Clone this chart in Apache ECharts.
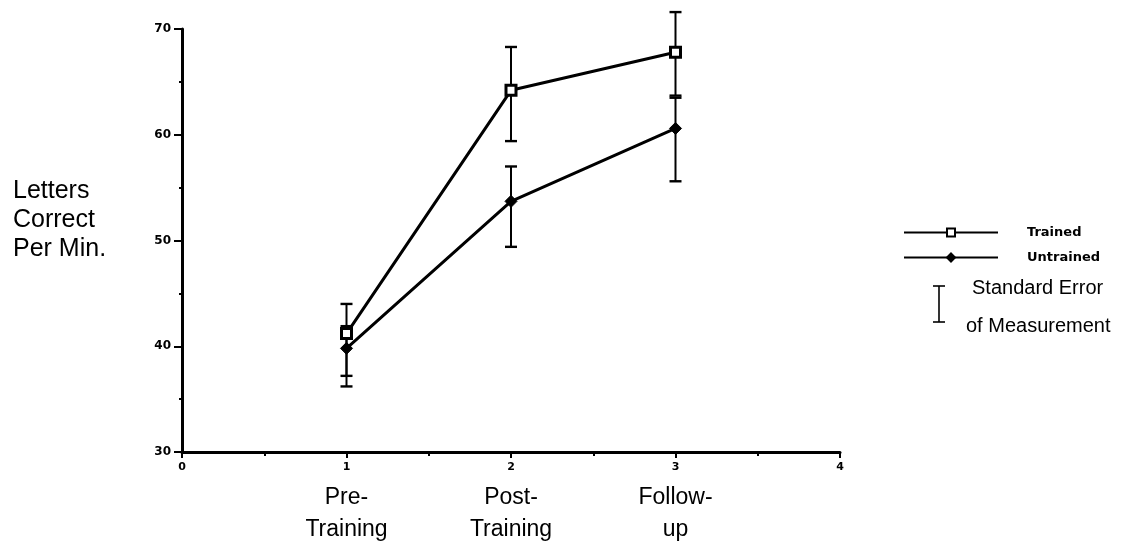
<!DOCTYPE html>
<html>
<head>
<meta charset="utf-8">
<script src="https://cdn.jsdelivr.net/npm/echarts@6/dist/echarts.min.js"></script>
<style>
  html, body { margin: 0; padding: 0; background: #fff; }
  #chart { width: 1125px; height: 541px; }
</style>
</head>
<body>
<div id="chart"></div>
<script>
// Measurement phases (x positions) and their names
const phases = [1, 2, 3];
const phaseNames = ['Pre-\nTraining', 'Post-\nTraining', 'Follow-\nup'];

// Letters correct per minute: group means and error-bar ends
const trainedMeans = [41.2, 64.2, 67.8];
const trainedLow = [37.2, 59.4, 63.7];
const trainedHigh = [44.0, 68.3, 71.6];

const untrainedMeans = [39.8, 53.7, 60.6];
const untrainedLow = [36.2, 49.4, 55.6];
const untrainedHigh = [41.9, 57.0, 63.5];

const seriesNames = ['Trained', 'Untrained'];
const yTitle = 'Letters\nCorrect\nPer Min.';
const errorNote = ['Standard Error', 'of Measurement'];

const FONT = 'Liberation Sans, Arial, Helvetica, sans-serif';
const BOLD_FONT = 'DejaVu Sans, sans-serif';

const pairs = (ys) => phases.map((x, i) => [x, ys[i]]);
const ranges = (lo, hi) => phases.map((x, i) => [x, lo[i], hi[i]]);

// Vertical error bar with end caps
function errorBar(params, api) {
  const x = api.value(0);
  const lo = api.coord([x, api.value(1)]);
  const hi = api.coord([x, api.value(2)]);
  const half = 6;
  const stroke = { stroke: '#000', lineWidth: 2 };
  const cap = { stroke: '#000', lineWidth: 2.4 };
  return {
    type: 'group',
    children: [
      { type: 'line', shape: { x1: lo[0], y1: lo[1], x2: hi[0], y2: hi[1] }, style: stroke },
      { type: 'line', shape: { x1: lo[0] - half, y1: lo[1], x2: lo[0] + half, y2: lo[1] }, style: cap },
      { type: 'line', shape: { x1: hi[0] - half, y1: hi[1], x2: hi[0] + half, y2: hi[1] }, style: cap }
    ]
  };
}

const hidden = { show: false };
const black = (w) => ({ color: '#000', width: w });

const chart = echarts.init(document.getElementById('chart'), null, { renderer: 'canvas' });

chart.setOption({
  backgroundColor: '#fff',
  animation: false,
  title: {
    text: yTitle,
    left: 8,
    top: 172,
    textStyle: { fontFamily: FONT, fontSize: 25, fontWeight: 'normal', color: '#000', lineHeight: 29 }
  },
  legend: {
    data: seriesNames,
    orient: 'vertical',
    left: 903,
    top: 226,
    padding: 0,
    itemWidth: 94,
    itemHeight: 10,
    itemGap: 12,
    textStyle: { fontFamily: BOLD_FONT, fontSize: 13, fontWeight: 'bold', color: '#000', padding: [0, 0, 0, 24] }
  },
  grid: { left: 182, right: 285, top: 29, bottom: 89, containLabel: false, outerBoundsMode: 'none' },
  xAxis: [
    {
      // main axis with numeric labels
      type: 'value', min: 0, max: 4, interval: 1,
      axisLine: { show: true, lineStyle: black(3) },
      axisTick: { show: true, inside: false, length: 6, lineStyle: black(2) },
      splitLine: hidden,
      axisLabel: { margin: 10, color: '#000', fontFamily: BOLD_FONT, fontSize: 11, fontWeight: 'bold' },
      z: 5
    },
    {
      // phase names under the numbers
      type: 'value', min: 0, max: 4, interval: 1, position: 'bottom',
      axisLine: hidden, axisTick: hidden, splitLine: hidden,
      axisLabel: {
        margin: 30, color: '#000', fontFamily: FONT, fontSize: 23, lineHeight: 32,
        formatter: (v) => { const i = phases.indexOf(v); return i >= 0 ? phaseNames[i] : ''; }
      }
    },
    {
      // half-step ticks
      type: 'value', min: 0, max: 4, interval: 0.5, position: 'bottom',
      axisLine: hidden, splitLine: hidden, axisLabel: hidden,
      axisTick: { show: true, inside: false, length: 4, lineStyle: black(2) }
    }
  ],
  yAxis: [
    {
      type: 'value', min: 30, max: 70, interval: 10,
      axisLine: { show: true, lineStyle: black(3) },
      axisTick: { show: true, inside: false, length: 8, lineStyle: black(2) },
      splitLine: hidden,
      axisLabel: { margin: 11, color: '#000', fontFamily: BOLD_FONT, fontSize: 12, fontWeight: 'bold' },
      z: 5
    },
    {
      // half-step ticks
      type: 'value', min: 30, max: 70, interval: 5, position: 'left',
      axisLine: hidden, splitLine: hidden, axisLabel: hidden,
      axisTick: { show: true, inside: false, length: 3, lineStyle: black(2) }
    }
  ],
  graphic: [
    // Standard-error key
    { type: 'line', shape: { x1: 939, y1: 286, x2: 939, y2: 322 }, style: { stroke: '#000', lineWidth: 1.6 } },
    { type: 'line', shape: { x1: 933, y1: 286, x2: 945, y2: 286 }, style: { stroke: '#000', lineWidth: 1.6 } },
    { type: 'line', shape: { x1: 933, y1: 322, x2: 945, y2: 322 }, style: { stroke: '#000', lineWidth: 1.6 } },
    { type: 'text', left: 972, top: 278, style: { text: errorNote[0], font: '20px ' + FONT, fill: '#000' } },
    { type: 'text', left: 966, top: 316, style: { text: errorNote[1], font: '20px ' + FONT, fill: '#000' } }
  ],
  series: [
    {
      type: 'custom', renderItem: errorBar, clip: false, z: 1,
      encode: { x: 0, y: [1, 2] }, data: ranges(trainedLow, trainedHigh)
    },
    {
      type: 'custom', renderItem: errorBar, clip: false, z: 1,
      encode: { x: 0, y: [1, 2] }, data: ranges(untrainedLow, untrainedHigh)
    },
    {
      name: seriesNames[0], type: 'line', z: 3, data: pairs(trainedMeans),
      symbol: 'rect', symbolSize: 10,
      lineStyle: { color: '#000', width: 3 },
      itemStyle: { color: '#fff', borderColor: '#000', borderWidth: 3 }
    },
    {
      name: seriesNames[1], type: 'line', z: 3, data: pairs(untrainedMeans),
      symbol: 'diamond', symbolSize: 12,
      lineStyle: { color: '#000', width: 3 },
      itemStyle: { color: '#000', borderColor: '#000', borderWidth: 1 }
    }
  ]
});
</script>
</body>
</html>
